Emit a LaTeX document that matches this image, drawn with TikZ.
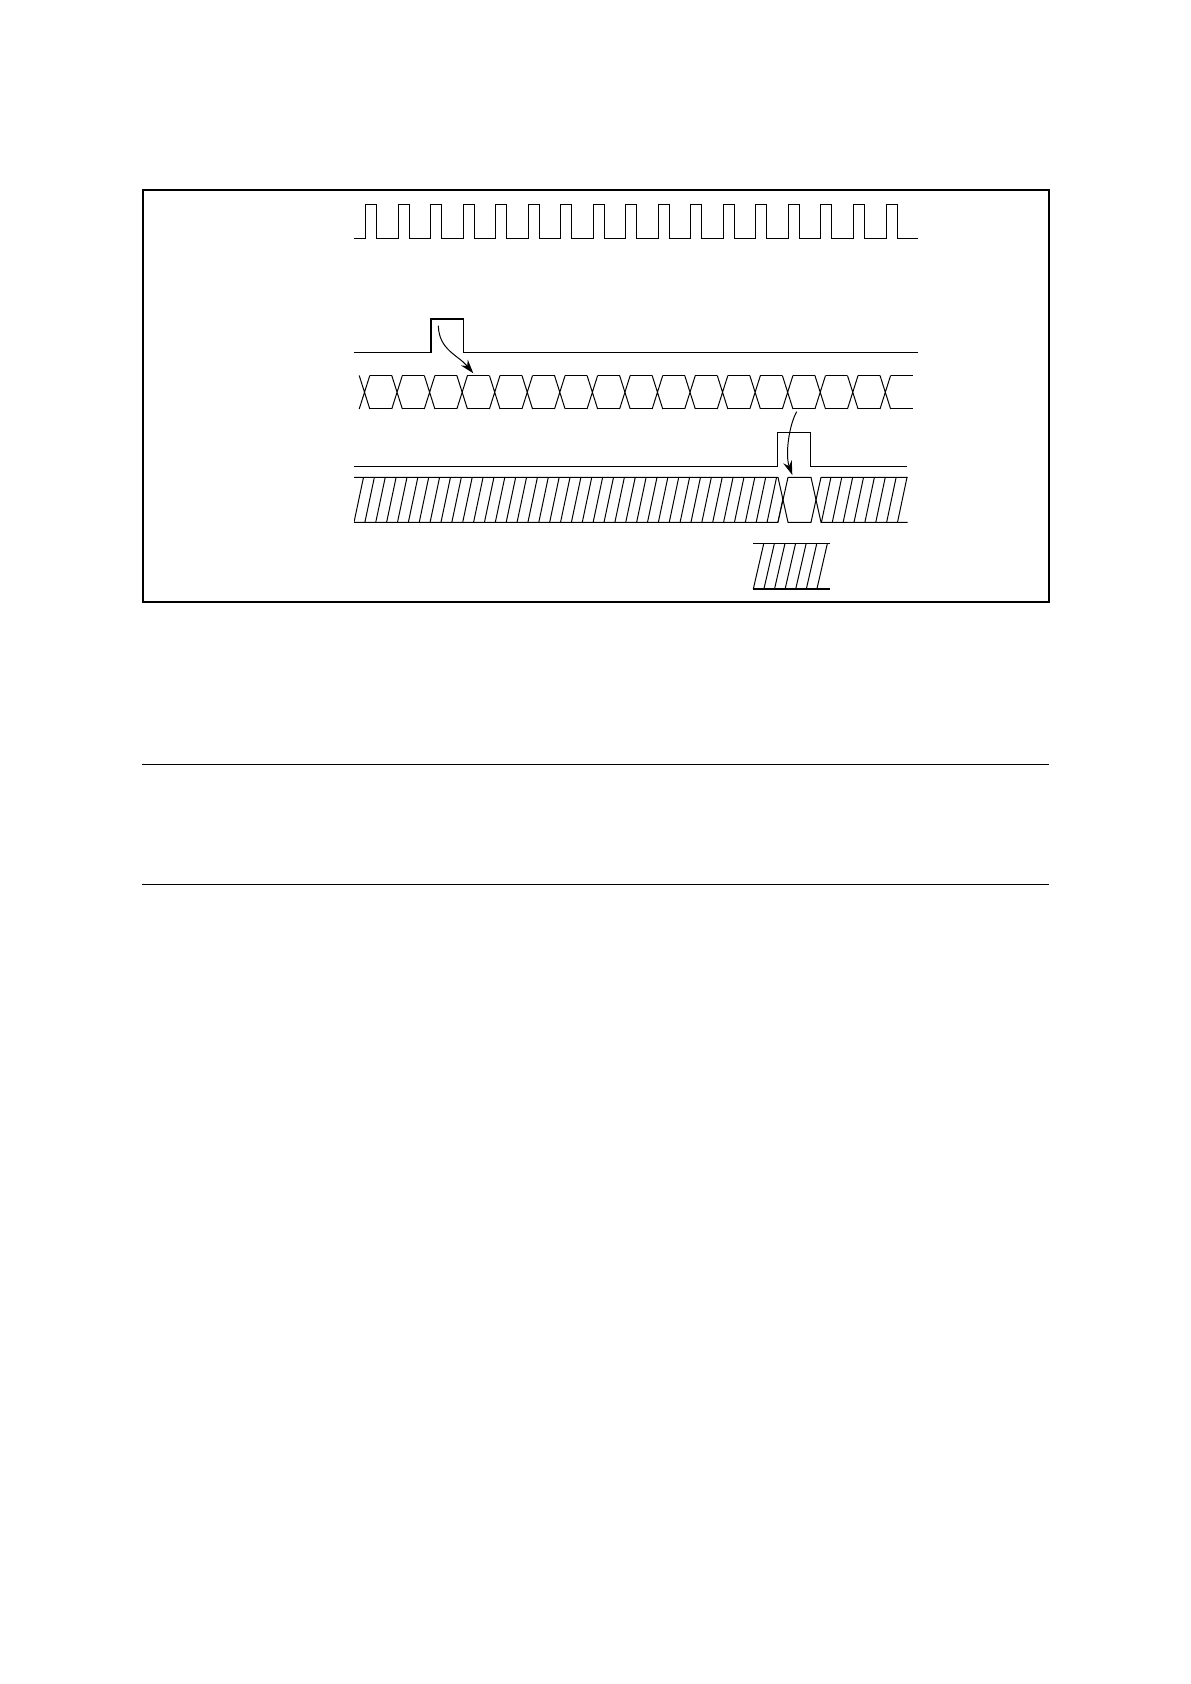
\documentclass[tikz,border=0pt]{standalone}
\usepackage{tikz}
\usetikzlibrary{arrows.meta}
\tikzstyle{arrow} = [line width=0.5pt,-{Stealth[length=7pt,width=4.5pt]}]
\tikzstyle{wave} = [line width=0.5pt]
\tikzstyle{frame} = [line width=1pt]

\begin{document}
\begin{tikzpicture}[x=0.5pt,y=-0.5pt]
	\useasboundingbox (0,0) rectangle (1190,1684);
	\draw[frame] (142.5,190.5) rectangle (1048.5,602);
	% clock
	\draw[wave] (354,238.3) \foreach \k in {0,...,16} { -- ({365.7+32.52*\k},238.3) -- ++(0,-34) -- ++(11,0) -- ++(0,34) } -- (918.3,238.3);
	% first strobe
	\draw[line width=0.8pt] (354,352.7) -- (430.7,352.7) -- (430.7,319.3) -- (463.3,319.3) -- (463.3,352.7) -- (918.3,352.7);
	% data bus
	\foreach \k in {0,...,16} \draw[wave] ({364.5+32.55*\k-5.3},375.5) -- ++(10.6,33.5) ++(-10.6,0) -- ++(10.6,-33.5);
	\foreach \k in {0,...,15} \draw[wave] ({364.5+32.55*\k+5.3},375.5) -- ++(21.95,0) ({364.5+32.55*\k+5.3},409) -- ++(21.95,0);
	\draw[wave] (890.6,375.5) -- (912.7,375.5) (890.6,409) -- (912.7,409);
	% second strobe
	\draw[wave] (354,466) -- (777.7,466) -- (777.7,432.3) -- (810.3,432.3) -- (810.3,466) -- (907.3,466);
	% latched bus
	\draw[wave] (354,477.3) -- (778,477.3) -- (788,522.3) -- (811,522.3) -- (821,477.3) -- (907.5,477.3);
	\draw[wave] (354,522.3) -- (778,522.3) -- (788,477.3) -- (811,477.3) -- (821,522.3) -- (907.5,522.3);
	\begin{scope}
		\clip (354,477.3) -- (778,477.3) -- (783,499.8) -- (778,522.3) -- (354,522.3) -- cycle
			(816,499.8) -- (821,477.3) -- (907.5,477.3) -- (907.5,522.3) -- (821,522.3) -- cycle;
		\foreach \k in {0,...,51} \draw[wave] ({354+10.87*\k},522.3) -- ++(9.5,-45);
	\end{scope}
	% small hatched block
	\draw[wave] (753.3,543.3) -- (830,543.3);
	\draw[line width=1pt] (753.3,589) -- (830,589);
	\foreach \k in {0,...,6} \draw[wave] ({753.3+10.6*\k},589) -- ++(10.5,-45.7);
	% rules below
	\draw[line width=0.7pt] (142,764.3) -- (1049,764.3);
	\draw[line width=0.7pt] (142,884.3) -- (1049,884.3);
	% arrows
	\coordinate (stbA) at (438.3,325.7);
	\coordinate (datA) at (473.3,373.3);
	\draw[arrow] (stbA) .. controls (439,350) and (458,355) .. (datA);
	\coordinate (datB) at (796.7,411.7);
	\coordinate (stbB) at (792.3,475);
	\draw[arrow] (datB) .. controls (789,425) and (785,455) .. (stbB);
\end{tikzpicture}
\end{document}
